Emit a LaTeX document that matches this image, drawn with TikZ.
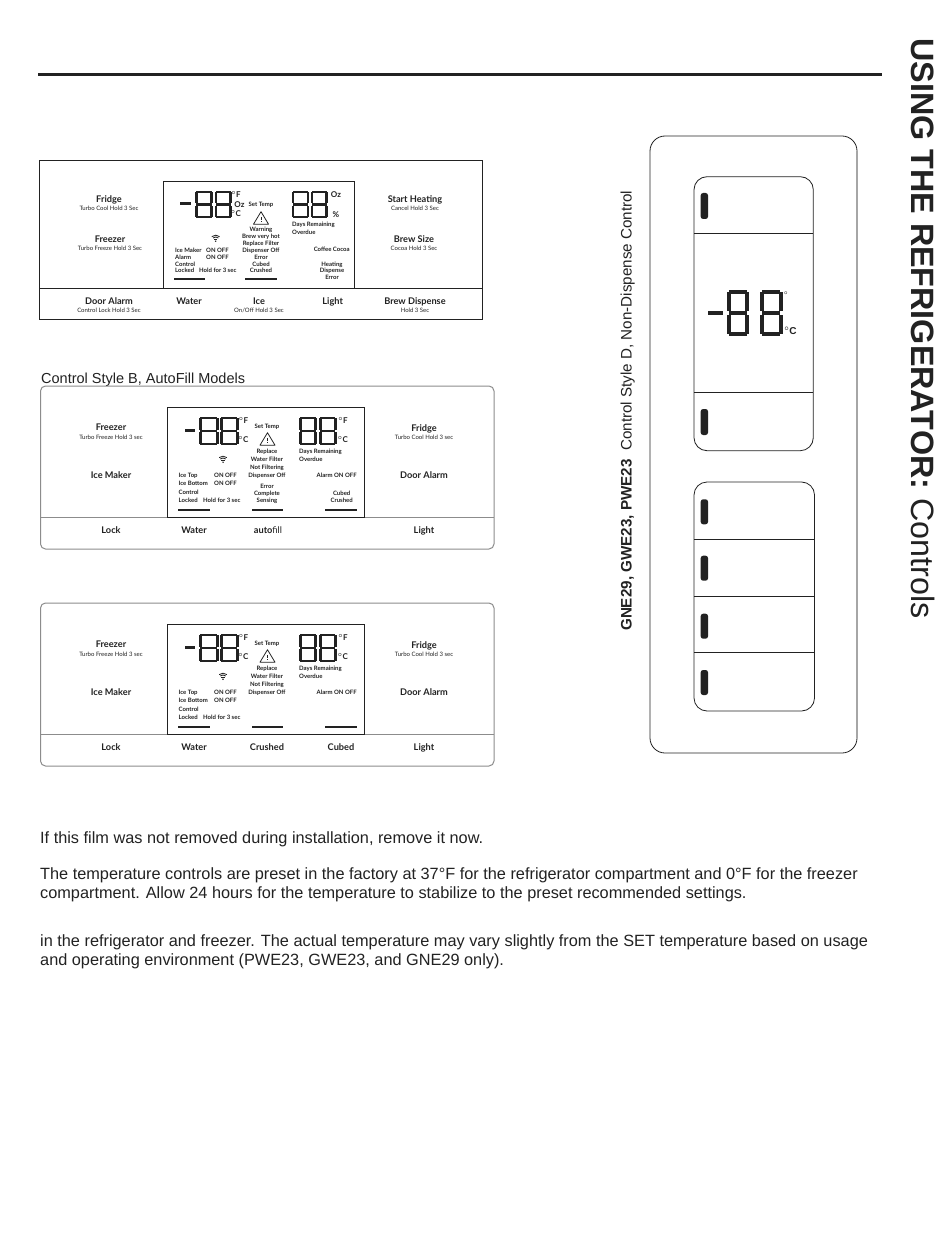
\documentclass[tikz,border=0pt]{standalone}
\usepackage{fontspec}
\setmainfont{Liberation Sans}
\newfontfamily\panelfont{Lato}
\usetikzlibrary{positioning,shapes.geometric}
\definecolor{inkdark}{HTML}{222222}
\definecolor{rimgrey}{HTML}{8C8C8C}
% one seven segment eight: left, top, width, height, stroke
\newcommand{\segeight}[5]{%
  \fill[inkdark] (#1+#5*0.55,#2) rectangle (#1+#3-#5*0.55,#2+#5*0.85);
  \fill[inkdark] (#1+#5*0.55,#2+#4/2-#5*0.42) rectangle (#1+#3-#5*0.55,#2+#4/2+#5*0.42);
  \fill[inkdark] (#1+#5*0.55,#2+#4-#5*0.85) rectangle (#1+#3-#5*0.55,#2+#4);
  \fill[inkdark] (#1,#2+#5*0.4) rectangle (#1+#5,#2+#4/2-#5*0.55);
  \fill[inkdark] (#1,#2+#4/2+#5*0.55) rectangle (#1+#5,#2+#4-#5*0.4);
  \fill[inkdark] (#1+#3-#5,#2+#5*0.4) rectangle (#1+#3,#2+#4/2-#5*0.55);
  \fill[inkdark] (#1+#3-#5,#2+#4/2+#5*0.55) rectangle (#1+#3,#2+#4-#5*0.4);
}
\newcommand{\wifimark}[2]{%
  \foreach \r in {2.4,4.2,6}
    \draw[line width=0.85pt,inkdark] (#1,#2+4.2) ++(230:\r) arc[start angle=230,end angle=310,radius=\r];
  \fill[inkdark] (#1,#2+4.2) circle (0.8);
}
\newcommand{\warntri}[2]{%
  \draw[line width=0.8pt,inkdark,line join=round] (#1,#2) -- (#1+7.5,#2+12.5) -- (#1-7.5,#2+12.5) -- cycle;
  \fill[inkdark] (#1-0.4,#2+5) rectangle (#1+0.4,#2+8.5);
  \fill[inkdark] (#1-0.4,#2+9.5) rectangle (#1+0.4,#2+10.5);
}
% shared content of the two rounded panels
\newcommand{\stylepanel}{%
  \draw[rim,rounded corners=5] (40.5,386) rectangle (494,549);
  \draw[rim] (40.5,517) -- (494,517);
  \draw[line width=0.7pt,inkdark] (167.3,407) rectangle (364.3,517);
  \fill[inkdark] (185,428.5) rectangle (195,431.5);
  \segeight{199}{417}{19.5}{28}{2.7}
  \segeight{220}{417}{18.5}{28}{2.7}
  \segeight{299}{417}{18}{28}{2.7}
  \segeight{319}{417}{17.5}{28}{2.7}
  \node[unit] (degf) at (243.5,421) {$^{\circ}$F};
  \node[unit] (degc) at (243.5,440) {$^{\circ}$C};
  \node[unit] (degfr) at (343,421) {$^{\circ}$F};
  \node[unit] (degcr) at (343,440) {$^{\circ}$C};
  \node[tiny] (settemp) at (267,426) {Set Temp};
  \warntri{267.5}{432.7}
  \wifimark{223}{458}
  \node[tiny] (replace) at (267,450.5) {Replace};
  \node[tiny] (filter) at (267,459) {Water Filter};
  \node[tiny] (notfilt) at (267,467) {Not Filtering};
  \node[tiny] (dispoff) at (267,475) {Dispenser Off};
  \node[tinyl] (top) at (178.5,475) {Ice Top};
  \node[tinyl] (topon) at (214,475) {ON OFF};
  \node[tinyl] (bottom) at (178.5,483) {Ice Bottom};
  \node[tinyl] (bottomon) at (214,483) {ON OFF};
  \node[tinyl] (control) at (178.5,491.5) {Control};
  \node[tinyl] (locked) at (178.5,500) {Locked};
  \node[tinyl] (hold) at (203,500) {Hold for 3 sec};
  \node[tinyl] (days) at (299,451) {Days  Remaining};
  \node[tinyl] (overdue) at (299,459) {Overdue};
  \node[tiny] (alarm) at (336.7,475) {Alarm ON OFF};
  \foreach \a/\b in {178/210,252/283,325/357}
    \fill[inkdark] (\a,508.7) rectangle (\b,510.7);
  \node[lab] (freezer) at (111,427.5) {Freezer};
  \node[sub] (freezersub) at (111,437) {Turbo Freeze Hold 3 sec};
  \node[lab] (icemaker) at (111,475) {Ice Maker};
  \node[lab] (fridge) at (424,428) {Fridge};
  \node[sub] (fridgesub) at (424,437) {Turbo Cool Hold 3 sec};
  \node[lab] (dooralarm) at (424,475) {Door Alarm};
  \node[lab] (lock) at (111,530) {Lock};
  \node[lab] (water) at (194,530) {Water};
  \node[lab] (light) at (424,530) {Light};
}
\begin{document}
\begin{tikzpicture}[x=1pt,y=-1pt,
  lab/.style={inner sep=0pt,yshift=-1pt,text height=6.6pt,text depth=1.8pt,font=\panelfont\bfseries\fontsize{9.2}{10}\selectfont,text=inkdark},
  sub/.style={inner sep=0pt,yshift=-0.5pt,text height=4.6pt,text depth=1.2pt,font=\panelfont\fontsize{6}{7}\selectfont,text=inkdark},
  tiny/.style={inner sep=0pt,yshift=-1pt,text height=4.4pt,text depth=1.2pt,font=\panelfont\bfseries\fontsize{6}{7}\selectfont,text=inkdark},
  tinyl/.style={tiny,anchor=west},
  unit/.style={inner sep=0pt,text height=5.6pt,text depth=0pt,font=\panelfont\bfseries\boldmath\fontsize{8}{9}\selectfont,text=inkdark},
  body/.style={inner sep=0pt,anchor=base west,font=\fontsize{16.3}{18}\selectfont,text=inkdark},
  rim/.style={line width=1pt,rimgrey},
  frame/.style={line width=0.8pt,inkdark},
  lamp/.style={inkdark,rounded corners=2.4}]
  \useasboundingbox (0,0) rectangle (950,1241);
  \fill[white] (0,0) rectangle (950,1241);
  % header rule and side titles
  \fill[inkdark] (38,73.5) rectangle (882,76.5);
  \node[inner sep=0pt,rotate=-90,anchor=base west,font=\fontsize{32.3}{34}\selectfont,text=inkdark] (sidetitle) at (911,38) {\textbf{USING THE REFRIGERATOR:} Controls};
  \node[inner sep=0pt,rotate=90,anchor=base west,font=\fontsize{15.2}{17}\selectfont,text=inkdark] (stylelabel) at (631.5,631) {\textbf{GNE29, GWE23, PWE23} \ Control Style D, Non-Dispense Control};
  % Control style A
  \draw[frame] (39.5,160.5) rectangle (482,319);
  \draw[frame] (39.5,288) -- (482,288);
  \draw[line width=0.7pt,inkdark] (163.3,181) rectangle (354.7,288);
  \fill[inkdark] (180,202.5) rectangle (190.7,205.5);
  \segeight{195}{190.7}{18}{27.5}{2.7}
  \segeight{214.5}{190.7}{17.5}{27.5}{2.7}
  \segeight{291.7}{190.7}{17.5}{27.5}{2.7}
  \segeight{310.5}{190.7}{17.5}{27.5}{2.7}
  \node[unit] (afdeg) at (236,195) {$^{\circ}$F};
  \node[unit] (aoz) at (239.5,205) {Oz};
  \node[unit] (acdeg) at (236,214) {$^{\circ}$C};
  \node[unit] (aozr) at (336,195) {Oz};
  \node[unit] (apct) at (336,215) {\%};
  \node[tiny] (aset) at (261,204) {Set Temp};
  \warntri{261}{211.7}
  \wifimark{215.7}{237}
  \node[tiny] (awarn) at (261,229) {Warning};
  \node[tiny] (abrew) at (261,236) {Brew very hot};
  \node[tiny] (arepl) at (261,243) {Replace Filter};
  \node[tiny] (adisp) at (261,250) {Dispenser Off};
  \node[tiny] (aerr) at (261,257) {Error};
  \node[tiny] (acubed) at (261,263.5) {Cubed};
  \node[tiny] (acrush) at (261,270) {Crushed};
  \node[tinyl] (amaker) at (175,250) {Ice Maker};
  \node[tinyl] (aon) at (206,250) {ON OFF};
  \node[tinyl] (aalarm) at (175,257) {Alarm};
  \node[tinyl] (aon2) at (206,257) {ON OFF};
  \node[tinyl] (acontrol) at (175,263.5) {Control};
  \node[tinyl] (alocked) at (175,270) {Locked};
  \node[tinyl] (ahold) at (199,270) {Hold for 3 sec};
  \node[tinyl] (adays) at (292,224) {Days  Remaining};
  \node[tinyl] (aover) at (292,232) {Overdue};
  \node[tiny] (acoffee) at (331.7,249) {Coffee  Cocoa};
  \node[tiny] (aheat) at (332,263.5) {Heating};
  \node[tiny] (adispense) at (332,270) {Dispense};
  \node[tiny] (aerror) at (332,277) {Error};
  \foreach \a/\b in {174/205,245/277}
    \fill[inkdark] (\a,277.5) rectangle (\b,279.5);
  \node[lab] (afridge) at (109,199.5) {Fridge};
  \node[sub] (afridgesub) at (109,208.5) {Turbo Cool Hold 3 Sec};
  \node[lab] (afreezer) at (110,239.5) {Freezer};
  \node[sub] (afreezersub) at (110,248.5) {Turbo Freeze Hold 3 Sec};
  \node[lab] (astart) at (415,199.5) {Start Heating};
  \node[sub] (astartsub) at (415,208.5) {Cancel Hold 3 Sec};
  \node[lab] (asize) at (414,239.5) {Brew Size};
  \node[sub] (asizesub) at (414,248.5) {Cocoa Hold 3 Sec};
  \node[lab] (adoor) at (109,301) {Door Alarm};
  \node[sub] (adoorsub) at (109,310) {Control Lock Hold 3 Sec};
  \node[lab] (awater) at (189,301) {Water};
  \node[lab] (aice) at (259,301) {Ice};
  \node[sub] (aicesub) at (259,310) {On/Off Hold 3 Sec};
  \node[lab] (alight) at (332.7,301) {Light};
  \node[lab] (abrewd) at (415,301) {Brew Dispense};
  \node[sub] (abrewdsub) at (415,310) {Hold 3 Sec};
  % Control style B
  \node[inner sep=0pt,anchor=base west,font=\fontsize{14.5}{16}\selectfont,text=inkdark] (bcaption) at (41,383) {Control Style B, AutoFill Models};
  \begin{scope}[name prefix=b-]
  \stylepanel
  \node[tiny] (err) at (267,486) {Error};
  \node[tiny] (complete) at (267,493) {Complete};
  \node[tiny] (sensing) at (267,500) {Sensing};
  \node[tiny] (cubed) at (341.7,493) {Cubed};
  \node[tiny] (crushed) at (341.7,500) {Crushed};
  \node[lab] (auto) at (268,530) {auto\mdseries fill};
  \end{scope}
  % Control style C
  \begin{scope}[yshift=-217pt,name prefix=c-]
  \stylepanel
  \node[lab] (crushed) at (267,530) {Crushed};
  \node[lab] (cubed) at (341,530) {Cubed};
  \end{scope}
  % Control style D
  \draw[frame] (650,151) arc[start angle=180,end angle=270,radius=15] -- (842,136) arc[start angle=270,end angle=360,radius=15] coordinate (dtr);
  \draw[frame] (650,151) -- (650,738) arc[start angle=180,end angle=90,radius=15] -- (842,753) arc[start angle=90,end angle=0,radius=15];
  \draw[line width=1.2pt,gray!70] (dtr) -- (857,738);
  \draw[frame,rounded corners=13] (694,176.7) rectangle (813.3,450.7);
  \foreach \yy in {233.3,392.3}
    \draw[frame] (694,\yy) -- (813.3,\yy);
  \foreach \yy in {193,409}
    \fill[lamp] (700.7,\yy) rectangle (708,\yy+26);
  \fill[inkdark] (708,311) rectangle (723,314.5);
  \segeight{726.7}{290}{22.5}{45.7}{4.2}
  \segeight{760}{290}{22.7}{45.7}{4.2}
  \node[inner sep=0pt,font=\bfseries\boldmath\fontsize{7}{8}\selectfont,text=inkdark] (ddeg) at (786,295) {$^{\circ}$};
  \node[inner sep=0pt,font=\bfseries\boldmath\fontsize{10}{11}\selectfont,text=inkdark] (dcdeg) at (790.5,330.7) {$^{\circ}$C};
  \draw[frame,rounded corners=13] (694,482) rectangle (814.5,711);
  \foreach \yy in {539.3,596,652.3}
    \draw[frame] (694,\yy) -- (814.5,\yy);
  \foreach \yy in {499.3,555.7,613.7,670}
    \fill[lamp] (700.7,\yy) rectangle (708,\yy+25);
  % text below
  \node[body] (film) at (40,843) {If this film was not removed during installation, remove it now.};
  \node[body] (preset) at (40,879) {The temperature controls are preset in the factory at 37°F for the refrigerator compartment and 0°F for the freezer};
  \node[body] (allow) at (40,898) {compartment. Allow 24 hours for the temperature to stabilize to the preset recommended settings.};
  \node[body] (actual) at (40,946) {in the refrigerator and freezer. The actual temperature may vary slightly from the SET temperature based on usage};
  \node[body] (operating) at (40,965) {and operating environment (PWE23, GWE23, and GNE29 only).};
\end{tikzpicture}
\end{document}
